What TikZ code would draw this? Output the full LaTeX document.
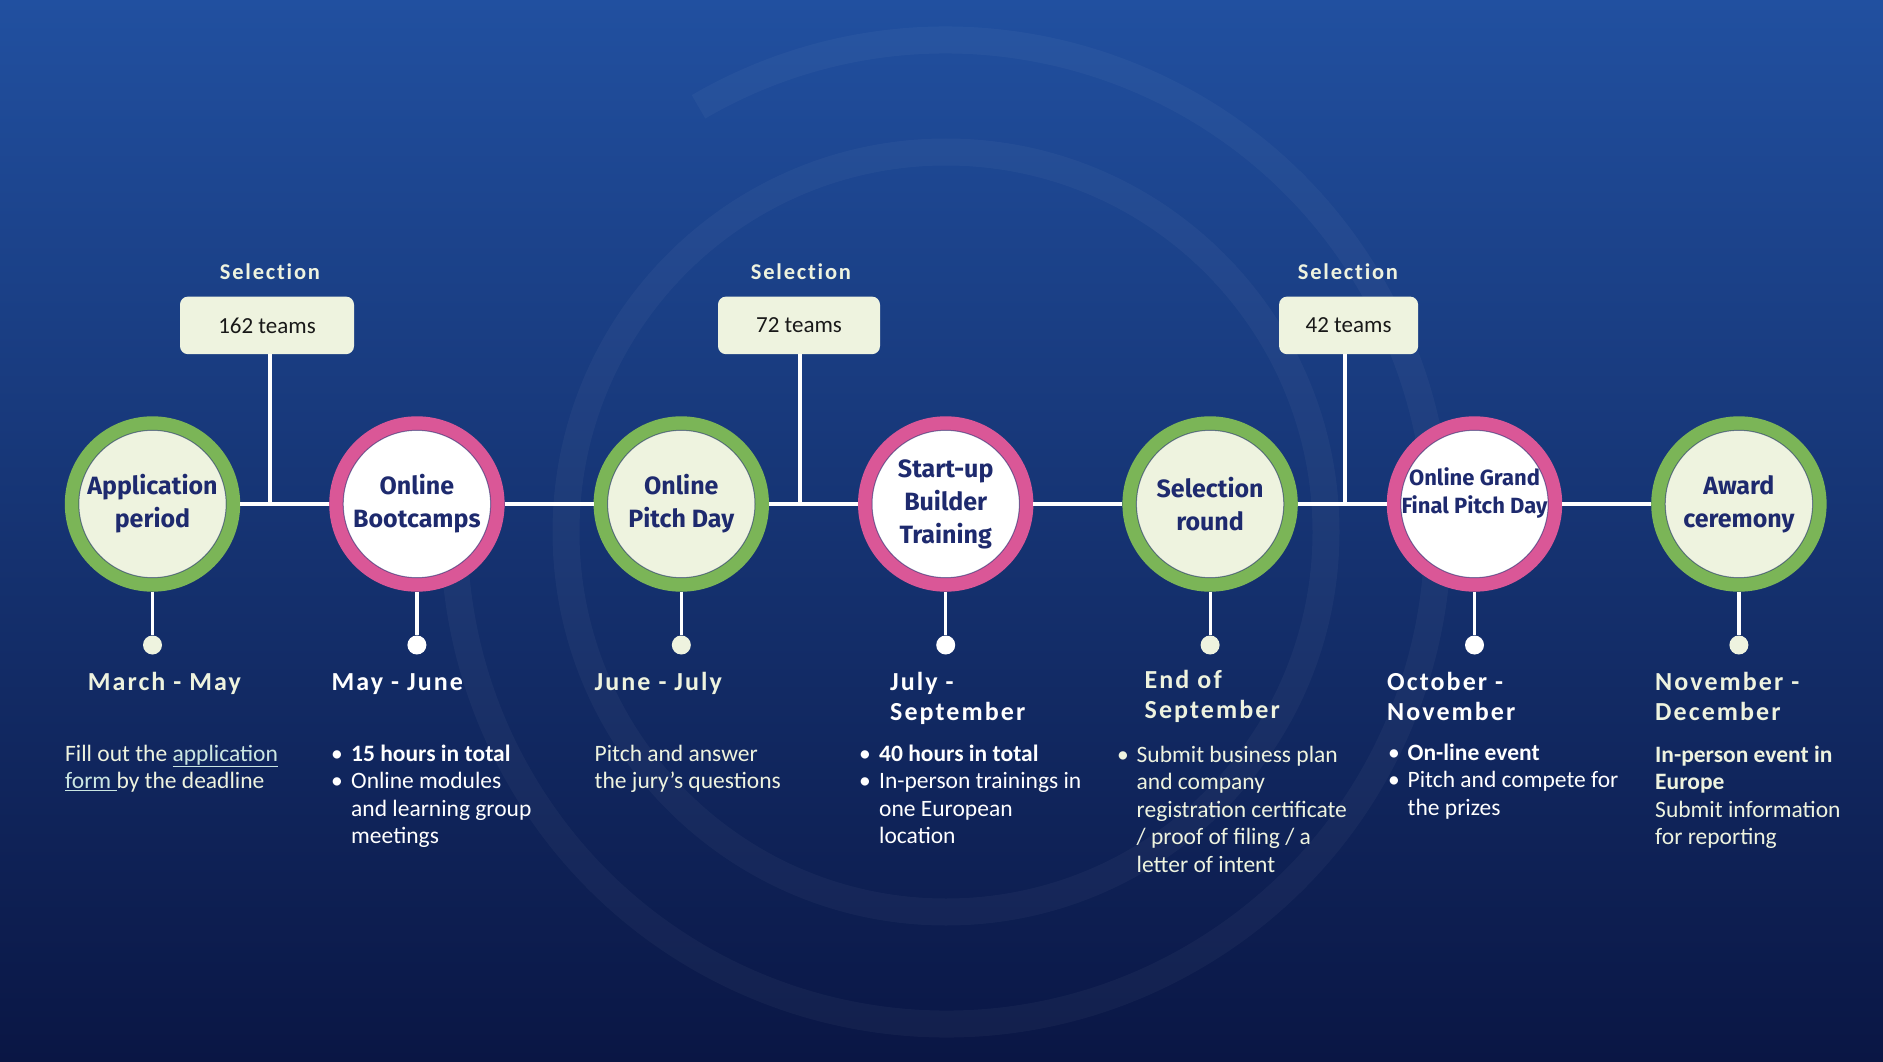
\documentclass[tikz,border=0pt]{standalone}
\usepackage{fontspec}
\setmainfont{Carlito}
\newfontfamily\titlefont{Fira Sans}
\newfontfamily\datefont{Carlito}[LetterSpace=8, Ligatures=NoCommon]
\definecolor{bgtop}{HTML}{2150A0}
\definecolor{bgmid}{HTML}{1A3B86}
\definecolor{bgbot}{HTML}{0A1644}
\definecolor{cream}{HTML}{EEF3DF}
\definecolor{ringgreen}{HTML}{7BB557}
\definecolor{ringpink}{HTML}{DA5797}
\definecolor{navy}{HTML}{1E2A6E}
\definecolor{linkc}{HTML}{CBE7E2}
\begin{document}
\begin{tikzpicture}[x=1pt,y=-1pt,
  conn/.style={white, line width=3.2pt},
  stage/.style={circle, minimum size=161.4pt, line width=14pt, inner sep=0pt},
  gst/.style={stage, draw=ringgreen, fill=cream},
  pst/.style={stage, draw=ringpink, fill=white},
  ttl/.style={font=\titlefont\bfseries\fontsize{25}{33}\selectfont, text=navy, align=center, inner sep=0pt},
  ttlsmall/.style={font=\titlefont\bfseries\fontsize{22}{28}\selectfont, text=navy, align=center, inner sep=0pt},
  dotc/.style={circle, minimum size=19pt, inner sep=0pt},
  sel/.style={font=\datefont\bfseries\fontsize{22.5}{26}\selectfont, text=cream, inner sep=0pt},
  teambox/.style={rounded corners=8pt, fill=cream, minimum height=57.6pt, inner sep=0pt, font=\fontsize{23}{27}\selectfont, text=black!90},
  datel/.style={font=\datefont\bfseries\fontsize{26}{30}\selectfont, align=left, anchor=base west, inner sep=0pt},
  bodyt/.style={font=\fontsize{23.5}{27.5}\selectfont, align=left, anchor=base west, inner sep=0pt},
  inring/.style={navy, line width=1pt, opacity=0.55},
  bgring/.style={white, opacity=0.035, line width=27pt}]
\useasboundingbox (0,0) rectangle (1883,1062);
% background
\begin{scope}[y=1pt]
\clip (0,0) rectangle (1883,-1062);
\shade[top color=bgtop, middle color=bgmid, bottom color=bgbot] (0,0) rectangle (1883,-1062);
\draw[bgring] (946,-532) circle[radius=380];
\draw[bgring] (946,-532) ++(120.2:492) arc[start angle=120.2, end angle=-190, radius=492];
\end{scope}

% stages
\node[gst] (s1) at (152.5,504) {};
\node[pst] (s2) at (416.9,504) {};
\node[gst] (s3) at (681.3,504) {};
\node[pst] (s4) at (945.7,504) {};
\node[gst] (s5) at (1210.1,504) {};
\node[pst] (s6) at (1474.5,504) {};
\node[gst] (s7) at (1738.9,504) {};
\foreach \s in {s1,s2,s3,s4,s5,s6,s7}{\draw[inring] (\s.center) circle[radius=73.7];}

% timeline
\draw[conn] (s1) -- (s2);
\draw[conn] (s2) -- (s3);
\draw[conn] (s3) -- (s4);
\draw[conn] (s4) -- (s5);
\draw[conn] (s5) -- (s6);
\draw[conn] (s6) -- (s7);

% titles
\node[ttl] (t1) at (s1.center) {Application\\period};
\node[ttl] (t2) at (s2.center) {Online\\Bootcamps};
\node[ttl] (t3) at (s3.center) {Online\\Pitch Day};
\node[ttl] (t4) at (s4.center) {Start-up\\Builder\\Training};
\node[ttl] (t5) at (s5.center) {Selection\\round};
\node[ttlsmall] (t6) at (1474.5,493) {Online Grand\\Final Pitch Day};
\node[ttl] (t7) at (s7.center) {Award\\ceremony};

% selection boxes
\node[sel] (l1) at (270,271.4) {Selection};
\node[sel] (l2) at (801,271.4) {Selection};
\node[sel] (l3) at (1348,271.4) {Selection};
\node[teambox, minimum width=174pt] (b1) at (267,325.4) {162 teams};
\node[teambox, minimum width=162pt] (b2) at (799,325.4) {72 teams};
\node[teambox, minimum width=139pt] (b3) at (1348.6,325.4) {42 teams};
\coordinate (j1) at (270,504);
\coordinate (j2) at (800,504);
\coordinate (j3) at (1345,504);
\draw[conn] (j1 |- b1.south) -- (j1);
\draw[conn] (j2 |- b2.south) -- (j2);
\draw[conn] (j3 |- b3.south) -- (j3);

% stems and dots
\node[dotc, fill=cream] (d1) at (152.5,645) {};
\node[dotc, fill=white] (d2) at (416.9,645) {};
\node[dotc, fill=cream] (d3) at (681.3,645) {};
\node[dotc, fill=white] (d4) at (945.7,645) {};
\node[dotc, fill=cream] (d5) at (1210.1,645) {};
\node[dotc, fill=white] (d6) at (1474.5,645) {};
\node[dotc, fill=cream] (d7) at (1738.9,645) {};
\draw[conn] (s1.south) -- (d1);
\draw[conn] (s2.south) -- (d2);
\draw[conn] (s3.south) -- (d3);
\draw[conn] (s4.south) -- (d4);
\draw[conn] (s5.south) -- (d5);
\draw[conn] (s6.south) -- (d6);
\draw[conn] (s7.south) -- (d7);

% dates (anchor = baseline of last line)
\node[datel, text=cream] (m1) at (87.7,690) {March - May};
\node[datel, text=white] (m2) at (331.5,690) {May - June};
\node[datel, text=cream] (m3) at (594.5,690) {June - July};
\node[datel, text=white] (m4) at (890,720) {July -\\September};
\node[datel, text=cream] (m5) at (1144.5,718) {End of\\September};
\node[datel, text=white] (m6) at (1387,720) {October -\\November};
\node[datel, text=cream] (m7) at (1655,720) {November -\\December};

% descriptions (anchor = baseline of last line)
\node[bodyt, text=cream] (x1) at (65,788.5) {Fill out the {\color{linkc}\underline{application}}\\{\color{linkc}\underline{form\ }}by the deadline};
\node[bodyt, text=white] (x2) at (331,843.5) {\makebox[20pt][l]{\textbullet}\textbf{15 hours in total}\\\makebox[20pt][l]{\textbullet}Online modules\\\hspace*{20pt}and learning group\\\hspace*{20pt}meetings};
\node[bodyt, text=cream] (x3) at (594.5,788.5) {Pitch and answer\\the jury’s questions};
\node[bodyt, text=white] (x4) at (859,843.5) {\makebox[20pt][l]{\textbullet}\textbf{40 hours in total}\\\makebox[20pt][l]{\textbullet}In-person trainings in\\\hspace*{20pt}one European\\\hspace*{20pt}location};
\node[bodyt, text=cream] (x5) at (1117,872) {\makebox[19.5pt][l]{\textbullet}Submit business plan\\\hspace*{19.5pt}and company\\\hspace*{19.5pt}registration certificate\\\hspace*{19.5pt}/ proof of filing / a\\\hspace*{19.5pt}letter of intent};
\node[bodyt, text=white] (x6) at (1388,815) {\makebox[19.5pt][l]{\textbullet}\textbf{On-line event}\\\makebox[19.5pt][l]{\textbullet}Pitch and compete for\\\hspace*{19.5pt}the prizes};
\node[bodyt, text=cream] (x7) at (1655,844.5) {\textbf{In-person event in}\\\textbf{Europe}\\Submit information\\for reporting};
\end{tikzpicture}
\end{document}
